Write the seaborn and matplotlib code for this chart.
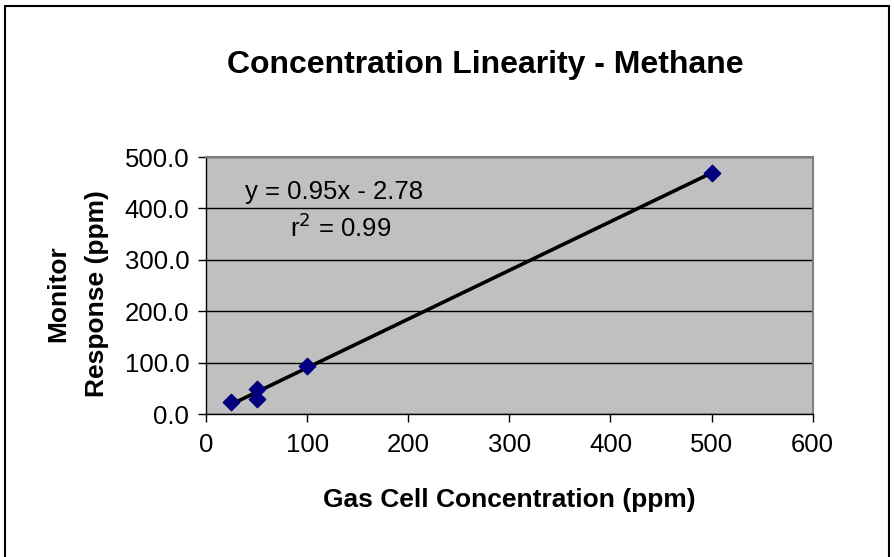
import matplotlib
matplotlib.use("Agg")
import matplotlib.pyplot as plt
import seaborn as sns
import pandas as pd

# gas cell concentration vs monitor response (ppm)
gas_conc = [25, 50, 50, 100, 500]
monitor_resp = [24, 48, 29, 93, 469]

x_ticks = [0, 100, 200, 300, 400, 500, 600]
y_ticks = [0, 100, 200, 300, 400, 500]

df = pd.DataFrame({"conc": gas_conc, "resp": monitor_resp})

sns.set_style("white")
plt.rcParams["font.family"] = ["Liberation Sans", "DejaVu Sans"]
plt.rcParams.update({"text.color": "black", "axes.labelcolor": "black",
                     "xtick.color": "black", "ytick.color": "black"})

fig = plt.figure(figsize=(8.95, 5.57), dpi=100)
ax = fig.add_axes([0.2302, 0.2567, 0.908 - 0.2302, 0.7181 - 0.2567])
ax.set_facecolor("#C0C0C0")

sns.regplot(data=df, x="conc", y="resp", ax=ax, ci=None, marker="D",
            scatter_kws={"s": 70, "color": "#000080", "edgecolors": "#000080",
                         "alpha": 1, "zorder": 3},
            line_kws={"color": "black", "lw": 2.6, "zorder": 2})

ax.set_xlim(0, 600)
ax.set_ylim(0, 500)
ax.set_xticks(x_ticks)
ax.set_yticks(y_ticks)
ax.set_yticklabels([f"{v:.1f}" for v in y_ticks])
ax.yaxis.grid(True, color="black", lw=1)
ax.set_axisbelow(True)
ax.tick_params(axis="both", labelsize=18.5, direction="out", length=6, width=1,
               color="black", bottom=True, left=True)
ax.tick_params(axis="x", pad=8)
ax.tick_params(axis="y", pad=6)
for side in ["top", "right"]:
    ax.spines[side].set_color("#808080")
    ax.spines[side].set_linewidth(1.5)
for side in ["left", "bottom"]:
    ax.spines[side].set_color("black")
    ax.spines[side].set_linewidth(1)

ax.set_xlabel("Gas Cell Concentration (ppm)", fontsize=19, fontweight="bold", va="center")
ax.xaxis.set_label_coords(0.5, -0.335)
ax.set_ylabel("Monitor\nResponse (ppm)", fontsize=19, fontweight="bold",
              va="center", linespacing=1.75)
ax.yaxis.set_label_coords(-0.212, 0.47)

ax.text(39, 432, "y = 0.95x - 2.78", fontsize=18.5, va="center", ha="left")
ax.text(83, 362, "r$^2$ = 0.99", fontsize=18.5, va="center", ha="left")

fig.suptitle("Concentration Linearity - Methane", fontsize=23, fontweight="bold",
             x=0.5425, y=0.883, va="center")

# outer chart frame
fig.add_artist(plt.Line2D([0.006, 0.006], [0, 0.99], color="black", lw=1.5, transform=fig.transFigure))
fig.add_artist(plt.Line2D([0.006, 0.993], [0.99, 0.99], color="black", lw=1.5, transform=fig.transFigure))
fig.add_artist(plt.Line2D([0.993, 0.993], [0, 0.99], color="black", lw=1.5, transform=fig.transFigure))

fig.savefig("out.png", dpi=100)
